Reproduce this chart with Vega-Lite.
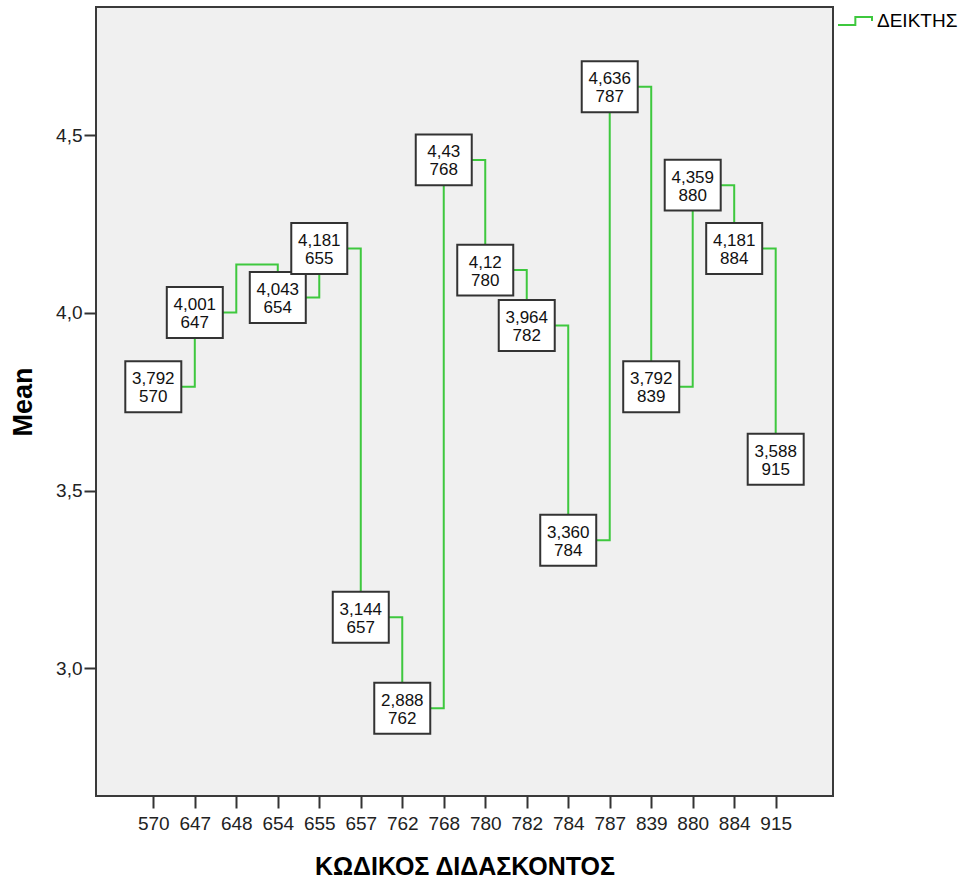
{
  "$schema": "https://vega.github.io/schema/vega-lite/v6.json",
  "width": 737,
  "height": 789,
  "autosize": {"type": "none"},
  "padding": {"left": 96, "top": 7, "right": 127, "bottom": 85},
  "background": "white",
  "config": {
    "font": "Liberation Sans",
    "view": {"fill": "#f0f0f0", "stroke": "#3a3a3a", "strokeWidth": 2}
  },
  "data": {
    "values": [
      {"code": "570", "mean": 3.792, "label": "3,792\n570"},
      {"code": "647", "mean": 4.001, "label": "4,001\n647"},
      {"code": "648", "mean": 4.136, "label": null},
      {"code": "654", "mean": 4.043, "label": "4,043\n654"},
      {"code": "655", "mean": 4.181, "label": "4,181\n655"},
      {"code": "657", "mean": 3.144, "label": "3,144\n657"},
      {"code": "762", "mean": 2.888, "label": "2,888\n762"},
      {"code": "768", "mean": 4.43, "label": "4,43\n768"},
      {"code": "780", "mean": 4.12, "label": "4,12\n780"},
      {"code": "782", "mean": 3.964, "label": "3,964\n782"},
      {"code": "784", "mean": 3.36, "label": "3,360\n784"},
      {"code": "787", "mean": 4.636, "label": "4,636\n787"},
      {"code": "839", "mean": 3.792, "label": "3,792\n839"},
      {"code": "880", "mean": 4.359, "label": "4,359\n880"},
      {"code": "884", "mean": 4.181, "label": "4,181\n884"},
      {"code": "915", "mean": 3.588, "label": "3,588\n915"}
    ]
  },
  "encoding": {
    "x": {
      "field": "code",
      "type": "ordinal",
      "sort": null,
      "scale": {"type": "point", "range": [57.3, 679.7], "padding": 0},
      "axis": {
        "title": "ΚΩΔΙΚΟΣ ΔΙΔΑΣΚΟΝΤΟΣ",
        "titleFontSize": 25,
        "titleFontWeight": "bold",
        "titleColor": "#000",
        "titleBaseline": "alphabetic",
        "titleY": 78,
        "labelAngle": 0,
        "labelFontSize": 19,
        "labelColor": "#222",
        "labelPadding": 6,
        "tickSize": 12,
        "tickColor": "#333",
        "tickWidth": 2,
        "domain": false,
        "grid": false
      }
    },
    "y": {
      "field": "mean",
      "type": "quantitative",
      "scale": {"domain": [2.641, 4.86], "nice": false, "zero": false},
      "axis": {
        "title": "Mean",
        "titleFontSize": 27,
        "titleFontWeight": "bold",
        "titleColor": "#000",
        "titleBaseline": "middle",
        "titleX": -73,
        "values": [3, 3.5, 4, 4.5],
        "labelExpr": "replace(format(datum.value, '.1f'), '.', ',')",
        "labelFontSize": 19,
        "labelColor": "#222",
        "labelPadding": 2,
        "tickSize": 12,
        "tickColor": "#333",
        "tickWidth": 2,
        "domain": false,
        "grid": false
      }
    }
  },
  "layer": [
    {
      "mark": {"type": "line", "interpolate": "step-after", "strokeWidth": 2},
      "encoding": {
        "color": {
          "datum": "ΔΕΙΚΤΗΣ",
          "type": "nominal",
          "scale": {"range": ["#3ec83e"]},
          "legend": {
            "title": null,
            "orient": "none",
            "legendX": 741,
            "legendY": -4,
            "padding": 0,
            "symbolType": "M-1,0.235H0.02V-0.235H1V0",
            "symbolSize": 1156,
            "symbolStrokeWidth": 2,
            "symbolFillColor": "transparent",
            "labelFontSize": 19,
            "labelColor": "#000",
            "labelOffset": 4
          }
        }
      }
    },
    {
      "transform": [{"filter": "isValid(datum.label)"}],
      "mark": {
        "type": "point",
        "shape": "M-1,-0.91H1V0.91H-1Z",
        "size": 3136,
        "filled": true,
        "fill": "white",
        "stroke": "#333",
        "strokeWidth": 2,
        "opacity": 1,
        "fillOpacity": 1,
        "strokeOpacity": 1
      }
    },
    {
      "transform": [{"filter": "isValid(datum.label)"}],
      "mark": {"type": "text", "fontSize": 17, "baseline": "alphabetic", "lineBreak": "\n", "lineHeight": 18, "dy": -2.5, "color": "#111"},
      "encoding": {"text": {"field": "label"}}
    }
  ]
}
